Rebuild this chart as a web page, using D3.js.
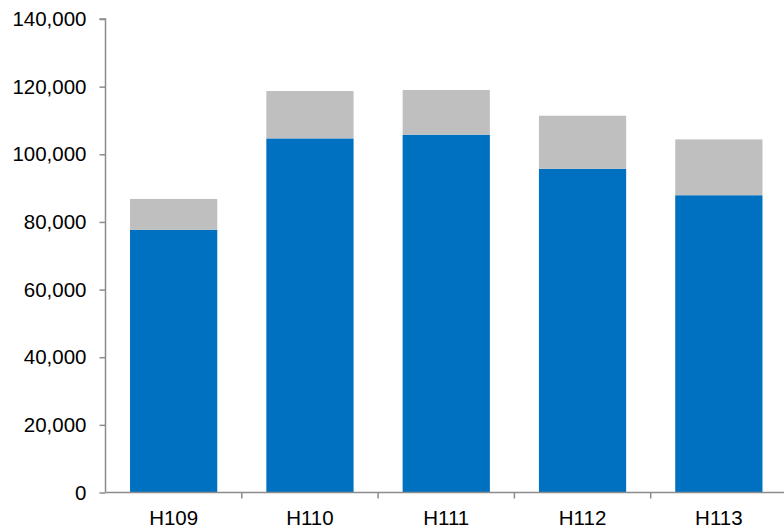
<!DOCTYPE html>
<html>
<head>
<meta charset="utf-8">
<script src="https://cdn.jsdelivr.net/npm/d3@7"></script>
<style>
  html, body { margin: 0; padding: 0; background: #fff; }
  svg { display: block; font-family: "Liberation Sans", Arial, sans-serif; }
</style>
</head>
<body>
<svg id="chart" width="784" height="528"></svg>
<script>
// Half-year periods and the two stacked components
const categories = ["H109", "H110", "H111", "H112", "H113"];
const baseValues = [77700, 104700, 105800, 95700, 87900];
const topValues = [9100, 14000, 13200, 15700, 16500];
const yTicks = [0, 20000, 40000, 60000, 80000, 100000, 120000, 140000];

const colors = { base: "#0070C0", top: "#BFBFBF", axis: "#8C8C8C", text: "#000" };

const svg = d3.select("#chart");
const margin = { left: 105.5, right: -3, top: 19, bottom: 35.5 };
const W = 784, H = 528;

const x = d3.scaleBand()
  .domain(categories)
  .range([margin.left, W - margin.right])
  .paddingInner(0.36)
  .paddingOuter(0.18);

const y = d3.scaleLinear()
  .domain([0, 140000])
  .range([H - margin.bottom, margin.top]);

const rows = categories.map((c, i) => ({ cat: c, base: baseValues[i], top: topValues[i] }));
const stacked = d3.stack().keys(["base", "top"])(rows);

svg.append("g")
  .selectAll("g")
  .data(stacked)
  .join("g")
  .attr("fill", d => colors[d.key])
  .selectAll("rect")
  .data(d => d)
  .join("rect")
  .attr("x", d => x(d.data.cat))
  .attr("width", x.bandwidth())
  .attr("y", d => y(d[1]))
  .attr("height", d => y(d[0]) - y(d[1]));

// Y axis
const yAxis = svg.append("g")
  .attr("transform", `translate(${margin.left},0)`)
  .call(d3.axisLeft(y).tickValues(yTicks).tickSize(6).tickPadding(13)
    .tickFormat(d3.format(",")));
yAxis.select(".domain").attr("stroke", colors.axis).attr("stroke-width", 1.5)
  .attr("d", `M-6,${y(140000)}H0V${y(0)}`);
yAxis.selectAll(".tick line").attr("stroke", colors.axis).attr("stroke-width", 1.5);
yAxis.selectAll(".tick text").attr("font-size", "20.5px").attr("fill", colors.text)
  .attr("font-family", "'Liberation Sans', Arial, sans-serif");

// X axis with ticks between categories
const xAxisG = svg.append("g").attr("transform", `translate(0,${y(0)})`);
xAxisG.append("line")
  .attr("x1", margin.left).attr("x2", W)
  .attr("stroke", colors.axis).attr("stroke-width", 1.5);
const step = x.step();
const boundaries = categories.map((c, i) => x(c) - step * x.paddingInner() / 2)
  .slice(1);
boundaries.push(x(categories[categories.length - 1]) + x.bandwidth() + step * x.paddingInner() / 2);
xAxisG.selectAll("line.tk")
  .data(boundaries)
  .join("line")
  .attr("class", "tk")
  .attr("x1", d => d).attr("x2", d => d)
  .attr("y1", 0).attr("y2", 6)
  .attr("stroke", colors.axis).attr("stroke-width", 1.5);
xAxisG.selectAll("text")
  .data(categories)
  .join("text")
  .attr("x", d => x(d) + x.bandwidth() / 2)
  .attr("y", 32)
  .attr("text-anchor", "middle")
  .attr("font-size", "20.5px")
  .attr("fill", colors.text)
  .text(d => d);
</script>
</body>
</html>
